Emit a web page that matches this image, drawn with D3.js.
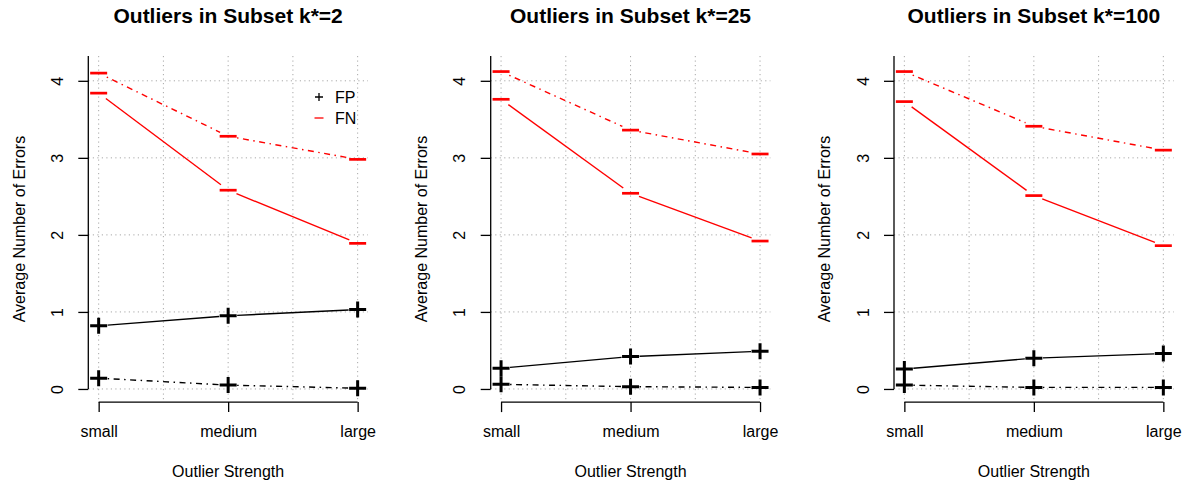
<!DOCTYPE html>
<html lang="en">
<head>
    <meta charset="UTF-8">
    <title>Outliers in Subset</title>
    <script src="https://d3js.org/d3.v7.min.js"></script>
    <style>
        body{
            margin: 0;
            background: #fff;
        }
        svg text{
            font-family: "Liberation Sans", Arial, Helvetica, sans-serif;
        }
    </style>
</head>
<body>
<svg id="canvas" width="1185" height="482"></svg>

<script>
    // categories on the x axis
    const strengths = ["small", "medium", "large"];
    const panelTitles = ["Outliers in Subset k*=2", "Outliers in Subset k*=25", "Outliers in Subset k*=100"];
    const yTicks = [0, 1, 2, 3, 4];

    // one row per panel, one value per strength
    const fpSolid = [[0.82, 0.95, 1.03], [0.27, 0.42, 0.49], [0.26, 0.40, 0.46]];
    const fpDash  = [[0.14, 0.05, 0.01], [0.06, 0.03, 0.02], [0.05, 0.02, 0.02]];
    const fnSolid = [[3.84, 2.58, 1.89], [3.76, 2.54, 1.92], [3.73, 2.51, 1.86]];
    const fnDash  = [[4.10, 3.28, 2.98], [4.12, 3.36, 3.05], [4.12, 3.41, 3.10]];

    const svg = d3.select("#canvas");

    // plot region geometry (left edge of each panel's plot area)
    const plotLefts = [88.3, 490.7, 894];
    const plotW = 279.7;
    const plotTop = 56, plotBottom = 402.1;
    const dotdash = "1.5,4.5,6,4.5";
    const dotted = "1.2,3.3";
    const gridCol = "#a8a8a8";
    const gap = 9; // type="b" gap around points

    const y = d3.scaleLinear().domain([-0.1705, 4.322]).range([plotBottom, plotTop]);

    function drawSeries(g, x, vals, color, dash, marker) {
        const pts = vals.map((v, i) => [x(i + 1), y(v)]);
        // segments shortened at both ends like R's type="b"
        for (let i = 0; i < pts.length - 1; i++) {
            const [x0, y0] = pts[i], [x1, y1] = pts[i + 1];
            const len = Math.hypot(x1 - x0, y1 - y0);
            const ux = (x1 - x0) / len, uy = (y1 - y0) / len;
            g.append("line")
                .attr("x1", x0 + ux * gap).attr("y1", y0 + uy * gap)
                .attr("x2", x1 - ux * gap).attr("y2", y1 - uy * gap)
                .attr("stroke", color)
                .attr("stroke-width", 1.4)
                .attr("stroke-dasharray", dash);
        }
        g.selectAll(null).data(pts).enter().append("path")
            .attr("d", d => marker === "+"
                ? `M${d[0] - 8.5},${d[1]}h17M${d[0]},${d[1] - 8}v16`
                : `M${d[0] - 8.5},${d[1]}h17`)
            .attr("stroke", color)
            .attr("stroke-width", marker === "+" ? 3 : 2.7)
            .attr("fill", "none");
    }

    panelTitles.forEach((title, p) => {
        const left = plotLefts[p];
        const x = d3.scaleLinear().domain([0.92, 3.08]).range([left, left + plotW]);
        const g = svg.append("g");

        // grid
        g.append("g").selectAll("line").data(yTicks).enter().append("line")
            .attr("x1", x(0.92)).attr("x2", x(3.08))
            .attr("y1", d => y(d)).attr("y2", d => y(d))
            .attr("stroke", gridCol).attr("stroke-dasharray", dotted);
        g.append("g").selectAll("line").data([1, 1.5, 2, 2.5, 3]).enter().append("line")
            .attr("x1", d => x(d)).attr("x2", d => x(d))
            .attr("y1", plotTop).attr("y2", plotBottom)
            .attr("stroke", gridCol).attr("stroke-dasharray", dotted);

        // y axis
        const ya = g.append("g")
            .attr("transform", `translate(${left},0)`)
            .call(d3.axisLeft(y).tickValues(yTicks).tickFormat(d3.format("d")).tickSize(10).tickSizeOuter(0));
        ya.select(".domain").remove();
        ya.selectAll(".tick line").attr("stroke-width", 1.3);
        ya.selectAll(".tick text")
            .attr("x", null).attr("dy", null)
            .attr("transform", "translate(-25.3,0) rotate(-90)")
            .attr("text-anchor", "middle")
            .attr("font-size", 16).attr("fill", "#000");
        ya.append("line")
            .attr("y1", y(0)).attr("y2", plotTop)
            .attr("stroke", "#000").attr("stroke-width", 1.3);

        // x axis
        const xa = g.append("g")
            .attr("transform", `translate(0,${plotBottom})`)
            .call(d3.axisBottom(x).tickValues([1, 2, 3]).tickFormat(i => strengths[i - 1])
                .tickSize(10).tickSizeOuter(0).tickPadding(14));
        xa.select(".domain").remove();
        xa.selectAll(".tick line").attr("stroke-width", 1.3);
        xa.selectAll(".tick text").attr("font-size", 16).attr("fill", "#000");
        xa.append("line")
            .attr("x1", x(1)).attr("x2", x(3))
            .attr("stroke", "#000").attr("stroke-width", 1.3);

        // series
        drawSeries(g, x, fnDash[p], "#ff0000", dotdash, "-");
        drawSeries(g, x, fnSolid[p], "#ff0000", null, "-");
        drawSeries(g, x, fpSolid[p], "#000", null, "+");
        drawSeries(g, x, fpDash[p], "#000", dotdash, "+");

        // titles
        const cx = left + plotW / 2;
        g.append("text")
            .attr("x", cx).attr("y", 23)
            .attr("text-anchor", "middle")
            .attr("font-size", 21).attr("font-weight", "bold")
            .text(title);
        g.append("text")
            .attr("x", cx).attr("y", 477)
            .attr("text-anchor", "middle")
            .attr("font-size", 16)
            .text("Outlier Strength");
        g.append("text")
            .attr("transform", `translate(${left - 63.8},${(plotTop + plotBottom) / 2}) rotate(-90)`)
            .attr("text-anchor", "middle")
            .attr("font-size", 16)
            .text("Average Number of Errors");

        // legend only in first panel
        if (p === 0) {
            const lg = g.append("g");
            lg.append("path").attr("d", "M315,97h8M319,93v8")
                .attr("stroke", "#000").attr("stroke-width", 1.3);
            lg.append("path").attr("d", "M314.5,118h9")
                .attr("stroke", "#ff0000").attr("stroke-width", 1.3);
            lg.append("text").attr("x", 335).attr("y", 102.8).attr("font-size", 16).text("FP");
            lg.append("text").attr("x", 335).attr("y", 123.8).attr("font-size", 16).text("FN");
        }
    });
</script>
</body>
</html>
